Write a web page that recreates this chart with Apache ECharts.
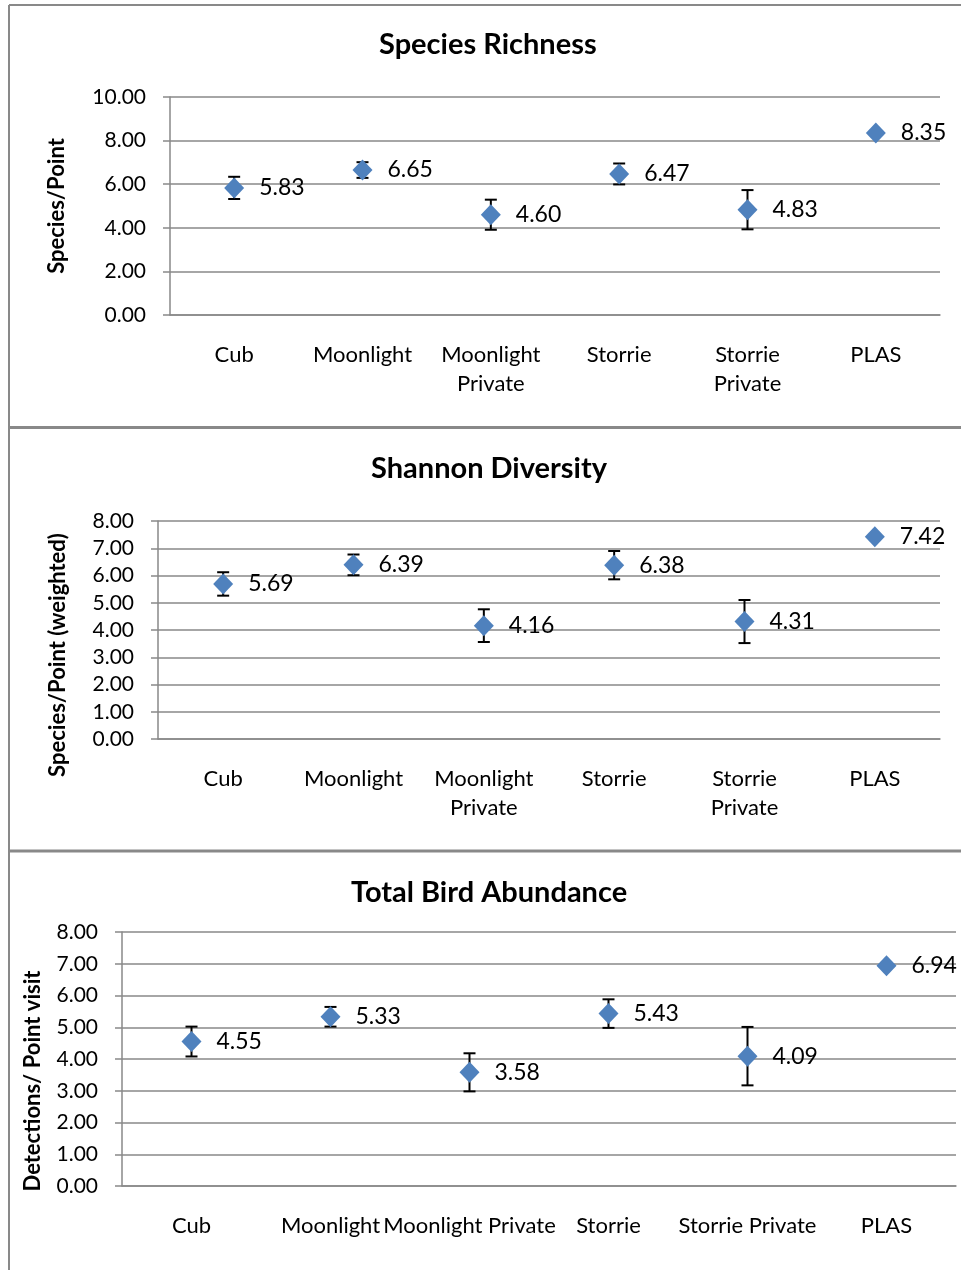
<!DOCTYPE html>
<html>
<head>
<meta charset="utf-8">
<style>
  html, body { margin: 0; padding: 0; background: #fff; }
  #chart { width: 961px; height: 1270px; }
</style>
<script src="https://cdn.jsdelivr.net/npm/echarts@6/dist/echarts.min.js"></script>
</head>
<body>
<div id="chart"></div>
<script>
// sites (x categories)
var categories = ['Cub', 'Moonlight', 'Moonlight Private', 'Storrie', 'Storrie Private', 'PLAS']

// means and error (+/-) per panel
var richnessMean = [5.83, 6.65, 4.60, 6.47, 4.83, 8.35]
var richnessErr = [0.51, 0.36, 0.69, 0.48, 0.90, 0]
var shannonMean = [5.69, 6.39, 4.16, 6.38, 4.31, 7.42]
var shannonErr = [0.43, 0.38, 0.60, 0.52, 0.79, 0]
var abundanceMean = [4.55, 5.33, 3.58, 5.43, 4.09, 6.94]
var abundanceErr = [0.47, 0.31, 0.60, 0.45, 0.92, 0.06]

var titles = ['Species Richness', 'Shannon Diversity', 'Total Bird Abundance']
var yNames = ['Species/Point', 'Species/Point (weighted)', 'Detections/ Point visit']
var yMax = [10, 8, 8]
var yStep = [2, 1, 1]

var FONT = 'Lato, "Open Sans", sans-serif'
var GRAY = '#898989'
var BLUE = '#4F81BD'

var grids = [
  { left: 170, top: 97, width: 770, height: 218 },
  { left: 158, top: 521, width: 782, height: 218 },
  { left: 122, top: 932, width: 834, height: 254 }
]
var titleTops = [25, 449, 873]
var titleLefts = [374, 366, 346]
var nameGaps = [102, 89, 78]
var namePad = [[0, 0, 0, 0], [0, 50, 0, 0], [0, 44, 0, 0]]
var means = [richnessMean, shannonMean, abundanceMean]
var errs = [richnessErr, shannonErr, abundanceErr]

function errBar(params, api) {
  var x = api.value(0)
  var lo = api.coord([x, api.value(1)])
  var hi = api.coord([x, api.value(2)])
  if (hi[1] === lo[1]) return null
  var w = 6
  var st = { stroke: '#000', lineWidth: 2 }
  return {
    type: 'group',
    children: [
      { type: 'line', shape: { x1: lo[0], y1: lo[1], x2: hi[0], y2: hi[1] }, style: st },
      { type: 'line', shape: { x1: lo[0] - w, y1: lo[1], x2: lo[0] + w, y2: lo[1] }, style: st },
      { type: 'line', shape: { x1: hi[0] - w, y1: hi[1], x2: hi[0] + w, y2: hi[1] }, style: st }
    ]
  }
}

var title = [], xAxis = [], yAxis = [], series = []
for (var i = 0; i < 3; i++) {
  title.push({
    text: titles[i], left: titleLefts[i], top: titleTops[i],
    textStyle: { fontFamily: FONT, fontSize: 29, fontWeight: 'bold', color: '#000' }
  })
  xAxis.push({
    type: 'category', gridIndex: i, data: categories,
    axisLine: { lineStyle: { color: GRAY, width: 1.5 } },
    axisTick: { length: 7, lineStyle: { color: GRAY, width: 1.5 } },
    axisLabel: {
      interval: 0, margin: 25, color: '#000', fontFamily: FONT, fontSize: 22, lineHeight: 29,
      formatter: i < 2 ? function (v) { return v.replace(' ', '\n') } : null
    }
  })
  yAxis.push({
    type: 'value', gridIndex: i, min: 0, max: yMax[i], interval: yStep[i],
    name: yNames[i], nameLocation: 'middle', nameGap: nameGaps[i],
    nameTextStyle: { fontFamily: FONT, fontSize: 22, fontWeight: 'bold', color: '#000', padding: namePad[i] },
    axisLine: { show: true, lineStyle: { color: GRAY, width: 1.5 } },
    axisTick: { show: true, length: 7, lineStyle: { color: GRAY, width: 1.5 } },
    splitLine: { lineStyle: { color: GRAY, width: 1.5 } },
    axisLabel: {
      margin: 24, color: '#000', fontFamily: FONT, fontSize: 21,
      formatter: function (v) { return v.toFixed(2) }
    }
  })
  var bars = means[i].map(function (m, k) { return [k, m - errs[i][k], m + errs[i][k]] })
  series.push({
    type: 'custom', xAxisIndex: i, yAxisIndex: i, renderItem: errBar,
    encode: { x: 0, y: [1, 2] }, data: bars, z: 2, silent: true
  })
  series.push({
    type: 'scatter', xAxisIndex: i, yAxisIndex: i, data: means[i],
    symbol: 'diamond', symbolSize: [20, 21], z: 3,
    itemStyle: { color: BLUE, opacity: 1 },
    label: {
      show: true, position: 'right', distance: 15, color: '#000',
      fontFamily: FONT, fontSize: 23,
      formatter: function (p) { return p.value.toFixed(2) }
    }
  })
}

var chart = echarts.init(document.getElementById('chart'), null, { renderer: 'canvas' })
chart.setOption({
  backgroundColor: '#fff',
  animation: false,
  title: title,
  grid: grids,
  xAxis: xAxis,
  yAxis: yAxis,
  series: series,
  graphic: [
    { type: 'line', shape: { x1: 9, y1: 5, x2: 961, y2: 5 }, style: { stroke: GRAY, lineWidth: 2 } },
    { type: 'line', shape: { x1: 9, y1: 5, x2: 9, y2: 1270 }, style: { stroke: GRAY, lineWidth: 2 } },
    { type: 'line', shape: { x1: 9, y1: 427.5, x2: 961, y2: 427.5 }, style: { stroke: GRAY, lineWidth: 3 } },
    { type: 'line', shape: { x1: 9, y1: 851, x2: 961, y2: 851 }, style: { stroke: GRAY, lineWidth: 3 } }
  ]
})
</script>
</body>
</html>
